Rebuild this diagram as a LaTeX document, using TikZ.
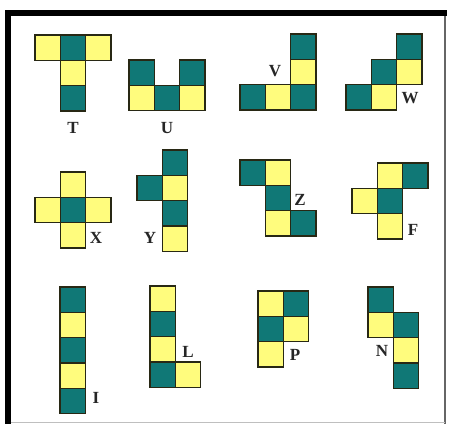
\documentclass[tikz,border=0pt]{standalone}
\usepackage{fontspec}
\setmainfont{Liberation Serif}
\usetikzlibrary{positioning}
\definecolor{tealc}{RGB}{16,120,118}
\definecolor{yelc}{RGB}{255,252,125}
\definecolor{edgec}{RGB}{40,40,20}
\newcommand{\cellsz}{25.3}

\begin{document}
\begin{tikzpicture}[x=1pt,y=-1pt,
  tq/.style={fill=tealc,draw=edgec,line width=1.2pt},
  yl/.style={fill=yelc,draw=edgec,line width=1.2pt},
  lbl/.style={font=\bfseries\fontsize{17}{17}\selectfont,inner sep=0pt,text=black!85}
]
\fill[white] (0,0) rectangle (450,424);
\useasboundingbox (0,0) rectangle (450,424);
% frame
\fill[black] (5,10) rectangle (11,424);
\fill[black] (5,10) rectangle (447,16);
\draw[black!60,line width=1.2pt] (445,16) -- (445,424);
\draw[black!25,line width=1.2pt] (11,422.5) -- (445,422.5);

% first row
\begin{scope}[shift={(35,35)}]
\foreach \c/\r/\s in {0/0/yl,1/0/tq,2/0/yl,1/1/yl,1/2/tq}
  \draw[\s] (\c*\cellsz,\r*\cellsz) rectangle ++(\cellsz,\cellsz);
\end{scope}
\begin{scope}[shift={(129,60)}]
\foreach \c/\r/\s in {0/0/tq,2/0/tq,0/1/yl,1/1/tq,2/1/yl}
  \draw[\s] (\c*\cellsz,\r*\cellsz) rectangle ++(\cellsz,\cellsz);
\end{scope}
\begin{scope}[shift={(240,34)}]
\foreach \c/\r/\s in {2/0/tq,2/1/yl,0/2/tq,1/2/yl,2/2/tq}
  \draw[\s] (\c*\cellsz,\r*\cellsz) rectangle ++(\cellsz,\cellsz);
\end{scope}
\begin{scope}[shift={(346,34)}]
\foreach \c/\r/\s in {2/0/tq,1/1/tq,2/1/yl,0/2/tq,1/2/yl}
  \draw[\s] (\c*\cellsz,\r*\cellsz) rectangle ++(\cellsz,\cellsz);
\end{scope}

% second row
\begin{scope}[shift={(35,172)}]
\foreach \c/\r/\s in {1/0/yl,0/1/yl,1/1/tq,2/1/yl,1/2/yl}
  \draw[\s] (\c*\cellsz,\r*\cellsz) rectangle ++(\cellsz,\cellsz);
\end{scope}
\begin{scope}[shift={(137,150)}]
\foreach \c/\r/\s in {1/0/tq,0/1/tq,1/1/yl,1/2/tq,1/3/yl}
  \draw[\s] (\c*\cellsz,\r*\cellsz) rectangle ++(\cellsz,\cellsz);
\end{scope}
\begin{scope}[shift={(240,160)}]
\foreach \c/\r/\s in {0/0/tq,1/0/yl,1/1/tq,1/2/yl,2/2/tq}
  \draw[\s] (\c*\cellsz,\r*\cellsz) rectangle ++(\cellsz,\cellsz);
\end{scope}
\begin{scope}[shift={(352,163)}]
\foreach \c/\r/\s in {1/0/yl,2/0/tq,0/1/yl,1/1/tq,1/2/yl}
  \draw[\s] (\c*\cellsz,\r*\cellsz) rectangle ++(\cellsz,\cellsz);
\end{scope}

% third row
\begin{scope}[shift={(60,287)}]
\foreach \c/\r/\s in {0/0/tq,0/1/yl,0/2/tq,0/3/yl,0/4/tq}
  \draw[\s] (\c*\cellsz,\r*\cellsz) rectangle ++(\cellsz,\cellsz);
\end{scope}
\begin{scope}[shift={(150,286)}]
\foreach \c/\r/\s in {0/0/yl,0/1/tq,0/2/yl,0/3/tq,1/3/yl}
  \draw[\s] (\c*\cellsz,\r*\cellsz) rectangle ++(\cellsz,\cellsz);
\end{scope}
\begin{scope}[shift={(258,291)}]
\foreach \c/\r/\s in {0/0/yl,1/0/tq,0/1/tq,1/1/yl,0/2/yl}
  \draw[\s] (\c*\cellsz,\r*\cellsz) rectangle ++(\cellsz,\cellsz);
\end{scope}
\begin{scope}[shift={(368,287)}]
\foreach \c/\r/\s in {0/0/tq,0/1/yl,1/1/tq,1/2/yl,1/3/tq}
  \draw[\s] (\c*\cellsz,\r*\cellsz) rectangle ++(\cellsz,\cellsz);
\end{scope}

% letters
\node[lbl] (labT) at (73,128) {T};
\node[lbl] (labU) at (167,128) {U};
\node[lbl] (labV) at (275,71) {V};
\node[lbl] (labW) at (410,98) {W};
\node[lbl] (labX) at (96,238) {X};
\node[lbl] (labY) at (150,238) {Y};
\node[lbl] (labZ) at (300,200) {Z};
\node[lbl] (labF) at (413,230) {F};
\node[lbl] (labI) at (96,398) {I};
\node[lbl] (labL) at (188,352) {L};
\node[lbl] (labP) at (295,355) {P};
\node[lbl] (labN) at (382,351) {N};
\end{tikzpicture}
\end{document}
